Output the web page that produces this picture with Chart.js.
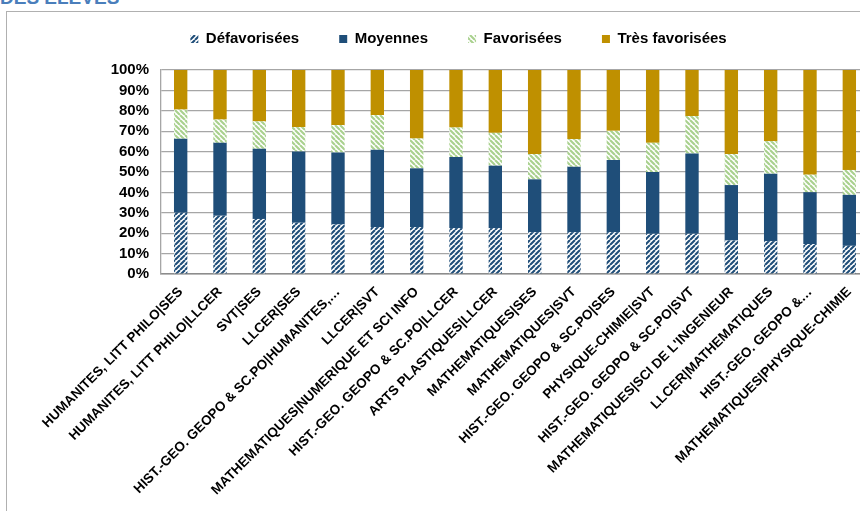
<!DOCTYPE html>
<html><head><meta charset="utf-8">
<script src="https://cdn.jsdelivr.net/npm/chart.js@4"></script>
<style>
html,body{margin:0;padding:0;overflow:hidden;width:860px;height:511px;background:#fff;}
#title{position:absolute;left:0;top:-12px;font:bold 19px "Liberation Sans",Arial,sans-serif;color:#4A7EBB;line-height:19px;white-space:nowrap;}
#frame{position:absolute;left:6px;top:11px;width:900px;height:600px;border-left:1px solid #B0B0B0;border-top:1px solid #B0B0B0;}
#wrap{position:absolute;left:0;top:0;width:900px;height:511px;}
</style></head><body>
<div id="title">DES ELEVES</div>
<div id="frame"></div>
<div id="wrap"><canvas id="c"></canvas></div>
<script>
const categories = [
  "HUMANITES, LITT PHILO|SES",
  "HUMANITES, LITT PHILO|LLCER",
  "SVT|SES",
  "LLCER|SES",
  "HIST.-GEO. GEOPO & SC.PO|HUMANITES,…",
  "LLCER|SVT",
  "MATHEMATIQUES|NUMERIQUE ET SCI INFO",
  "HIST.-GEO. GEOPO & SC.PO|LLCER",
  "ARTS PLASTIQUES|LLCER",
  "MATHEMATIQUES|SES",
  "MATHEMATIQUES|SVT",
  "HIST.-GEO. GEOPO & SC.PO|SES",
  "PHYSIQUE-CHIMIE|SVT",
  "HIST.-GEO. GEOPO & SC.PO|SVT",
  "MATHEMATIQUES|SCI DE L'INGENIEUR",
  "LLCER|MATHEMATIQUES",
  "HIST.-GEO. GEOPO &…",
  "MATHEMATIQUES|PHYSIQUE-CHIMIE"
];
const seriesNames = ["Défavorisées", "Moyennes", "Favorisées", "Très favorisées"];
const defavorisees = [30.0, 28.5, 27.0, 25.1, 24.3, 23.0, 23.0, 22.5, 22.5, 20.5, 20.5, 20.5, 19.7, 19.7, 16.4, 16.1, 14.7, 13.8];
const moyennes = [36.3, 35.8, 34.4, 35.0, 35.3, 37.9, 28.8, 34.8, 30.6, 25.9, 32.1, 35.4, 30.3, 39.4, 27.2, 33.1, 25.4, 25.0];
const favorisees = [14.3, 11.4, 13.4, 11.9, 13.4, 17.0, 14.6, 14.5, 16.1, 12.4, 13.5, 14.3, 14.3, 18.3, 15.2, 15.9, 8.6, 12.2];
const tresFavorisees = [19.4, 24.3, 25.2, 28.0, 27.0, 22.1, 33.6, 28.2, 30.8, 41.2, 33.9, 29.8, 35.7, 22.6, 41.2, 34.9, 51.3, 49.0];
const yTicks = [0, 10, 20, 30, 40, 50, 60, 70, 80, 90, 100];

function stripe(fg, bg, forward) {
  const s = 5;
  const c = document.createElement('canvas');
  c.width = s; c.height = s;
  const x = c.getContext('2d');
  x.fillStyle = bg; x.fillRect(0, 0, s, s);
  x.strokeStyle = fg; x.lineWidth = 2.1;
  x.beginPath();
  for (let k = -1; k <= 1; k++) {
    if (forward) { x.moveTo(k * s, s); x.lineTo(k * s + s, 0); }
    else { x.moveTo(k * s, 0); x.lineTo(k * s + s, s); }
  }
  x.stroke();
  return x.createPattern(c, 'repeat');
}

const FONT = '"Liberation Sans", Arial, sans-serif';
const padTop = -8.5;

const legendFitPlugin = {
  id: 'legendFit',
  beforeLayout(chart) {
    const lg = chart.legend;
    if (lg && !lg._fitPatched) {
      const orig = lg.fit;
      lg.fit = function () { orig.call(this); this.height = 70 - padTop; };
      lg._fitPatched = true;
    }
  }
};

new Chart(document.getElementById('c'), {
  type: 'bar',
  data: {
    labels: categories,
    datasets: [
      { label: seriesNames[0], data: defavorisees, backgroundColor: stripe('#1F4E79', '#ffffff', true) },
      { label: seriesNames[1], data: moyennes, backgroundColor: '#1F4E79' },
      { label: seriesNames[2], data: favorisees, backgroundColor: stripe('#A9D18E', '#ffffff', false) },
      { label: seriesNames[3], data: tresFavorisees, backgroundColor: '#BF9000' }
    ]
  },
  options: {
    responsive: true,
    maintainAspectRatio: false,
    animation: false,
    datasets: { bar: { barPercentage: 0.34, categoryPercentage: 1, borderWidth: 0 } },
    layout: { padding: { top: padTop, left: 48, right: 31, bottom: 0 } },
    plugins: {
      tooltip: { enabled: false },
      legend: {
        position: 'top',
        align: 'center',
        labels: {
          boxWidth: 8, boxHeight: 8, padding: 40,
          color: '#000', font: { family: FONT, size: 15, weight: 'bold' }
        }
      }
    },
    scales: {
      x: {
        stacked: true,
        grid: { display: false, drawTicks: false },
        border: { display: true, color: '#8C8C8C', width: 1.5 },
        ticks: {
          autoSkip: false, minRotation: 45, maxRotation: 45, padding: 10,
          color: '#000', font: { family: FONT, size: 13.5, weight: 'bold' }
        },
        afterFit(s) { s.height = 511 - 274; }
      },
      y: {
        stacked: true,
        min: 0, max: 100,
        afterBuildTicks(s) { s.ticks = yTicks.map(v => ({ value: v })); },
        grid: { color: '#A6A6A6', lineWidth: 1.3, drawTicks: false },
        border: { display: true, color: '#A6A6A6', width: 1.3 },
        ticks: {
          autoSkip: false, padding: 12, color: '#000',
          font: { family: FONT, size: 15, weight: 'bold' },
          callback: v => v + '%'
        },
        afterFit(s) { s.width = 113; }
      }
    }
  },
  plugins: [legendFitPlugin]
});
</script>
</body></html>
